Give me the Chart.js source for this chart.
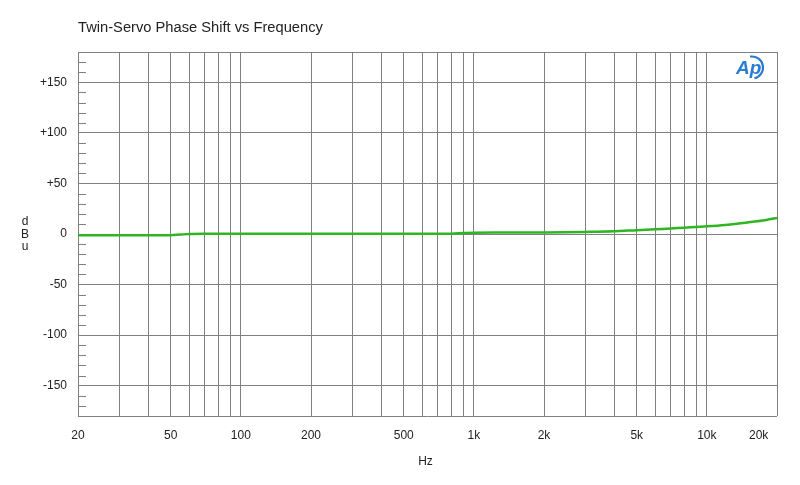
<!DOCTYPE html>
<html>
<head>
<meta charset="utf-8">
<script src="https://cdn.jsdelivr.net/npm/chart.js@4.4.0/dist/chart.umd.min.js"></script>
<style>
html,body{margin:0;padding:0;background:#fff;}
canvas{display:block;}
</style>
</head>
<body>
<canvas id="c" width="800" height="485"></canvas>
<script>
const chartTitle = 'Twin-Servo Phase Shift vs Frequency';
const xAxisLabel = 'Hz';
const yAxisLabel = ['d', 'B', 'u'];
const freqHz = [20, 30, 40, 50, 55, 60, 70, 100, 200, 500, 800, 900, 1000, 1500, 2000, 3000, 4000, 5000, 6000, 7000, 8000, 9000, 10000, 12000, 14000, 16000, 18000, 20000];
const phaseValues = [-1.3, -1.3, -1.2, -1.2, -0.6, 0, 0.2, 0.3, 0.3, 0.3, 0.3, 0.9, 1.3, 1.4, 1.5, 2.1, 2.7, 3.8, 4.6, 5.5, 6.3, 7.0, 7.6, 9.0, 10.6, 12.3, 13.9, 15.9];
const xGridTicks = [20,30,40,50,60,70,80,90,100,200,300,400,500,600,700,800,900,1000,2000,3000,4000,5000,6000,7000,8000,9000,10000,20000];
const xTickLabels = {20:'20',50:'50',100:'100',200:'200',500:'500',1000:'1k',2000:'2k',5000:'5k',10000:'10k',20000:'20k           '};
const yMin = -180, yMax = 180;
const yLabelValues = [-150, -100, -50, 0, 50, 100, 150];

const FONT = "'Liberation Sans', Arial, Helvetica, sans-serif";
const gridColor = '#808080';
const textColor = '#222222';

const decorPlugin = {
  id: 'decor',
  afterDraw(chart) {
    const ctx = chart.ctx;
    const area = chart.chartArea;
    const ys = chart.scales.y;
    ctx.save();
    // minor ticks on left
    ctx.strokeStyle = gridColor;
    ctx.lineWidth = 1;
    for (let v = yMin + 10; v < yMax; v += 10) {
      if (v % 50 === 0) continue;
      const py = Math.round(ys.getPixelForValue(v)) + 0.5;
      ctx.beginPath();
      ctx.moveTo(area.left, py);
      ctx.lineTo(area.left + 8, py);
      ctx.stroke();
    }
    // title
    ctx.fillStyle = textColor;
    ctx.font = '14.7px ' + FONT;
    ctx.textAlign = 'left';
    ctx.textBaseline = 'middle';
    ctx.fillText(chartTitle, area.left, 28);
    // y label stacked
    ctx.font = '12px ' + FONT;
    ctx.textAlign = 'center';
    yAxisLabel.forEach((t, i) => ctx.fillText(t, 25, 222 + i * 12.5));
    // x label
    ctx.fillText(xAxisLabel, (area.left + area.right) / 2 - 2, 462);
    // logo
    ctx.fillStyle = '#2b7bd0';
    ctx.strokeStyle = '#2b7bd0';
    ctx.font = 'italic bold 19px ' + FONT;
    ctx.textAlign = 'left';
    ctx.textBaseline = 'alphabetic';
    ctx.fillText('Ap', 736, 74);
    ctx.lineWidth = 2.2;
    ctx.beginPath();
    ctx.arc(752, 67.5, 11, -1.75, 1.35);
    ctx.stroke();
    ctx.restore();
  }
};

new Chart(document.getElementById('c'), {
  type: 'line',
  data: {
    datasets: [{
      data: freqHz.map((f, i) => ({x: f, y: phaseValues[i]})),
      borderColor: '#2fb522',
      borderWidth: 2.5,
      pointRadius: 0,
      tension: 0.3,
      fill: false
    }]
  },
  options: {
    responsive: false,
    animation: false,
    layout: {padding: {top: 52, right: 23, left: 0, bottom: 0}},
    plugins: {legend: {display: false}, tooltip: {enabled: false}, title: {display: false}},
    scales: {
      x: {
        type: 'logarithmic',
        min: 20,
        max: 20000,
        afterBuildTicks(scale) { scale.ticks = xGridTicks.map(v => ({value: v})); },
        afterFit(scale) { scale.height = 69; scale.paddingRight = 0; scale.paddingLeft = 0; },
        border: {display: false},
        grid: {color: gridColor, lineWidth: 1, drawTicks: false},
        ticks: {
          autoSkip: false,
          maxRotation: 0,
          padding: 12,
          color: textColor,
          font: {family: FONT, size: 12},
          callback: (v) => xTickLabels[v] || ''
        }
      },
      y: {
        type: 'linear',
        min: yMin,
        max: yMax,
        afterBuildTicks(scale) {
          const t = [];
          for (let v = yMin; v <= yMax; v += 10) t.push({value: v});
          scale.ticks = t;
        },
        afterFit(scale) { scale.width = 78; scale.paddingTop = 0; scale.paddingBottom = 0; },
        border: {display: false},
        grid: {
          drawTicks: false,
          lineWidth: 1,
          color: (c) => (c.tick && (c.tick.value % 50 === 0 || Math.abs(c.tick.value) === 180)) ? gridColor : 'rgba(0,0,0,0)'
        },
        ticks: {
          autoSkip: false,
          padding: 11,
          color: textColor,
          font: {family: FONT, size: 12},
          callback: (v) => yLabelValues.includes(v) ? (v > 0 ? '+' + v : String(v)) : ''
        }
      }
    }
  },
  plugins: [decorPlugin]
});
</script>
</body>
</html>
